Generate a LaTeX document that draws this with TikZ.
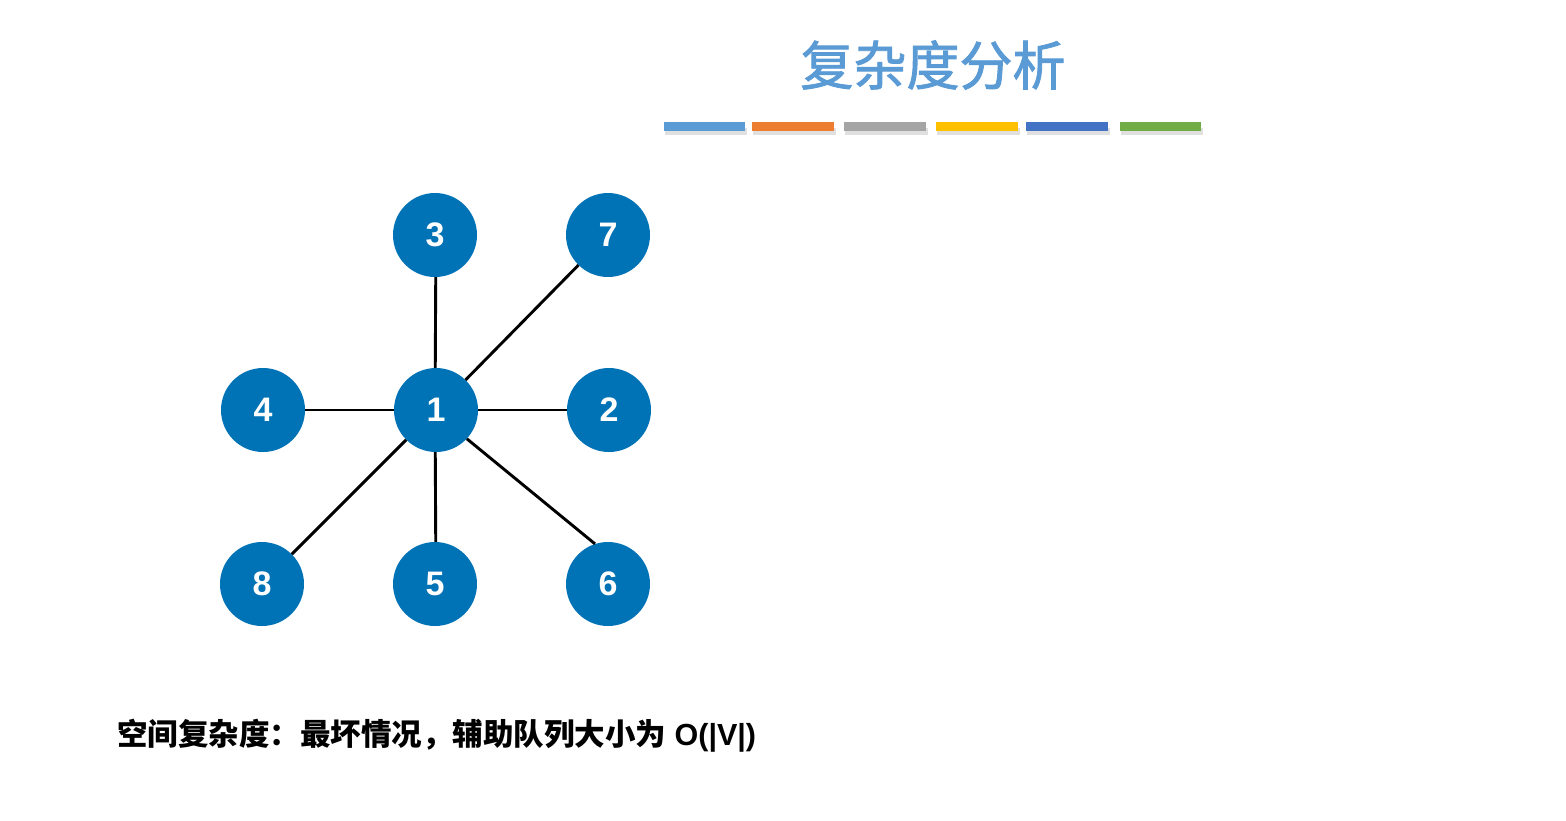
\documentclass[tikz,border=0pt]{standalone}
\usepackage{fontspec}
\setmainfont{Liberation Sans}
\newfontfamily\cjk{Noto Sans CJK SC}
\newfontfamily\cjkt[FakeBold=1.6]{Noto Sans CJK SC}
\definecolor{nodeblue}{RGB}{0,114,182}
\definecolor{titleblue}{RGB}{91,155,213}
\definecolor{barA}{RGB}{91,155,213}
\definecolor{barB}{RGB}{237,125,49}
\definecolor{barC}{RGB}{165,165,165}
\definecolor{barD}{RGB}{255,192,0}
\definecolor{barE}{RGB}{68,114,196}
\definecolor{barF}{RGB}{112,173,71}
\begin{document}
\begin{tikzpicture}[x=1pt,y=-1pt,
  vnode/.style={circle,fill=nodeblue,inner sep=0pt,minimum size=84pt,text=white,font=\bfseries\fontsize{34}{34}\selectfont},
  edge/.style={line width=2.9pt,black},
  colbar/.style={minimum width=82pt,minimum height=9pt,inner sep=0pt}]
\useasboundingbox (0,0) rectangle (1566,820);
\fill[white] (0,0) rectangle (1566,820);
% title
\node[text=titleblue,font=\cjkt\fontsize{53}{60}\selectfont] (title) at (933,65) {复杂度分析};
% bars
\foreach \x/\c/\w [count=\i] in {704.5/barA/81, 793/barB/82, 885/barC/82, 977/barD/82, 1067/barE/82, 1160/barF/81}{
  \fill[black,opacity=0.12] (\x-\w/2+1,128) rectangle (\x+\w/2+2,135);
  \node[colbar,fill=\c,minimum width=\w pt] (bar\i) at (\x,126.5) {};
}
% nodes
\node[vnode] (n3) at (435,235) {3};
\node[vnode] (n7) at (608,235) {7};
\node[vnode] (n4) at (263,410) {4};
\node[vnode] (n1) at (436,410) {1};
\node[vnode] (n2) at (609,410) {2};
\node[vnode] (n8) at (262,584) {8};
\node[vnode] (n5) at (435,584) {5};
\node[vnode] (n6) at (608,584) {6};
% edges
\draw[edge] (n1.91) -- (n3.-89);
\draw[edge] (n1) -- (n7);
\draw[edge] (n1) -- (n4);
\draw[edge] (n1) -- (n2);
\draw[edge] (n1) -- (n8);
\draw[edge] (n1.-91) -- (n5.89);
\draw[edge] (n1.-43) -- (n6.108);
% bottom text
\node[anchor=west,font=\bfseries\fontsize{30.5}{34}\selectfont,inner sep=0pt] (note) at (117,736) {{\cjk 空间复杂度：最坏情况，辅助队列大小为} O(|V|)};
\end{tikzpicture}
\end{document}
